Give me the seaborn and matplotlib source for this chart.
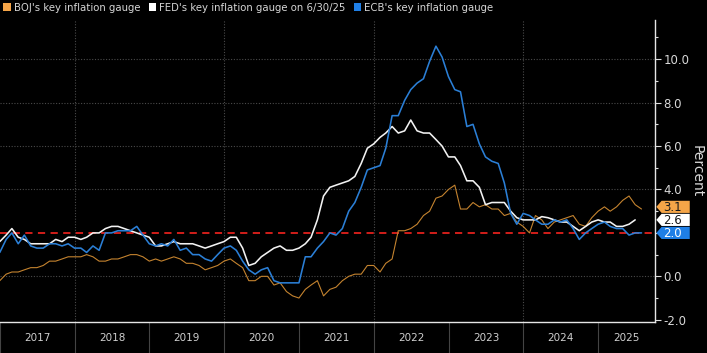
import pandas as pd
import seaborn as sns
import matplotlib.pyplot as plt
import matplotlib.dates as mdates
import matplotlib.transforms as mtransforms
from matplotlib.patches import Patch, Polygon
from matplotlib.ticker import FuncFormatter, NullFormatter, MultipleLocator

# Monthly y/y readings, starting Dec 2016
boj = [-0.2,
       0.1, 0.2, 0.2, 0.3, 0.4, 0.4, 0.5, 0.7, 0.7, 0.8, 0.9, 0.9,
       0.9, 1.0, 0.9, 0.7, 0.7, 0.8, 0.8, 0.9, 1.0, 1.0, 0.9, 0.7,
       0.8, 0.7, 0.8, 0.9, 0.8, 0.6, 0.6, 0.5, 0.3, 0.4, 0.5, 0.7,
       0.8, 0.6, 0.4, -0.2, -0.2, 0.0, 0.0, -0.4, -0.3, -0.7, -0.9, -1.0,
       -0.6, -0.4, -0.2, -0.9, -0.6, -0.5, -0.2, 0.0, 0.1, 0.1, 0.5, 0.5,
       0.2, 0.6, 0.8, 2.1, 2.1, 2.2, 2.4, 2.8, 3.0, 3.6, 3.7, 4.0,
       4.2, 3.1, 3.1, 3.4, 3.2, 3.3, 3.1, 3.1, 2.8, 2.9, 2.5, 2.3,
       2.0, 2.8, 2.6, 2.2, 2.5, 2.6, 2.7, 2.8, 2.4, 2.3, 2.7, 3.0,
       3.2, 3.0, 3.2, 3.5, 3.7, 3.3, 3.1]

fed = [1.6,
       1.9, 2.2, 1.8, 1.7, 1.5, 1.5, 1.5, 1.5, 1.7, 1.6, 1.8, 1.8,
       1.7, 1.8, 2.0, 2.0, 2.2, 2.3, 2.3, 2.2, 2.1, 2.0, 1.9, 1.8,
       1.4, 1.4, 1.5, 1.6, 1.5, 1.5, 1.5, 1.4, 1.3, 1.4, 1.5, 1.6,
       1.8, 1.8, 1.3, 0.5, 0.6, 0.9, 1.1, 1.3, 1.4, 1.2, 1.2, 1.3,
       1.5, 1.8, 2.6, 3.7, 4.1, 4.2, 4.3, 4.4, 4.6, 5.2, 5.9, 6.1,
       6.4, 6.6, 6.9, 6.6, 6.7, 7.2, 6.7, 6.6, 6.6, 6.3, 6.0, 5.5,
       5.5, 5.1, 4.4, 4.4, 4.1, 3.3, 3.4, 3.4, 3.4, 3.0, 2.7, 2.6,
       2.6, 2.6, 2.75, 2.7, 2.6, 2.5, 2.5, 2.3, 2.1, 2.3, 2.5, 2.6,
       2.5, 2.5, 2.3, 2.3, 2.4, 2.6]

ecb = [1.1,
       1.7, 2.0, 1.5, 1.9, 1.4, 1.3, 1.3, 1.5, 1.5, 1.4, 1.5, 1.3,
       1.3, 1.1, 1.4, 1.2, 2.0, 2.0, 2.1, 2.1, 2.1, 2.3, 1.9, 1.5,
       1.4, 1.5, 1.4, 1.7, 1.2, 1.3, 1.0, 1.0, 0.8, 0.7, 1.0, 1.3,
       1.4, 1.2, 0.7, 0.3, 0.1, 0.3, 0.4, -0.2, -0.3, -0.3, -0.3, -0.3,
       0.9, 0.9, 1.3, 1.6, 2.0, 1.9, 2.2, 3.0, 3.4, 4.1, 4.9, 5.0,
       5.1, 5.9, 7.4, 7.4, 8.1, 8.6, 8.9, 9.1, 9.9, 10.6, 10.1, 9.2,
       8.6, 8.5, 6.9, 7.0, 6.1, 5.5, 5.3, 5.2, 4.3, 2.9, 2.4, 2.9,
       2.8, 2.6, 2.4, 2.4, 2.6, 2.5, 2.6, 2.2, 1.7, 2.0, 2.2, 2.4,
       2.5, 2.3, 2.2, 2.2, 1.9, 2.0, 2.0]

labels = ["BOJ's key inflation gauge",
          "FED's key inflation gauge on 6/30/25",
          "ECB's key inflation gauge"]
years = list(range(2017, 2026))
target = 2.0

line_cols = ['#c4832f', '#f2f2f2', '#2b7fd6']
key_cols = ['#f5a548', '#ffffff', '#1f7fe6']
badge_txt = ['#1a1a1a', '#1a1a1a', '#ffffff']

start = pd.Timestamp('2016-12-31')
series = [boj, fed, ecb]
frames = []
for name, vals in zip(labels, series):
    frames.append(pd.DataFrame({'date': pd.date_range(start, periods=len(vals), freq='ME'),
                                'value': vals, 'gauge': name}))
df = pd.concat(frames, ignore_index=True)

sns.set_style('dark')
plt.rcParams['font.family'] = ['DejaVu Sans']

fig = plt.figure(figsize=(7.07, 3.53), dpi=100, facecolor='black')
ax = fig.add_axes([0.0, 0.088, 0.9265, 0.855])
ax.set_facecolor('black')

x0, x1 = pd.Timestamp('2017-01-01'), pd.Timestamp('2025-10-05')
ax.set_xlim(x0, x1)
ax.set_ylim(-2.1, 11.8)

# grid
for v in [0, 4, 6, 8, 10]:
    ax.axhline(v, color='#4a4a4a', lw=0.8, ls=(0, (1, 1.5)), zorder=0)
for y in [2018, 2020, 2022, 2024]:
    ax.axvline(pd.Timestamp(f'{y}-01-01'), color='#4a4a4a', lw=0.8, ls=(0, (1, 1.5)), zorder=0)

ax.axhline(target, color='#e3211c', lw=1.3, ls=(0, (4, 3)), zorder=2)

widths = [0.8, 1.15, 1.15]
for name, c, w in zip(labels, line_cols, widths):
    sub = df[df['gauge'] == name]
    sns.lineplot(data=sub, x='date', y='value', ax=ax, color=c, linewidth=w, zorder=3)

ax.set_xlabel('')
# x axis: year separators + centred year labels
ax.xaxis.set_major_locator(mdates.YearLocator())
ax.xaxis.set_major_formatter(NullFormatter())
centres = []
for y in years:
    a = max(pd.Timestamp(f'{y}-01-01'), x0)
    b = min(pd.Timestamp(f'{y + 1}-01-01'), x1)
    centres.append(mdates.date2num(a + (b - a) / 2))
ax.set_xticks(centres, minor=True)
ax.set_xticklabels([str(y) for y in years], minor=True)
ax.tick_params(axis='x', which='major', bottom=True, direction='out', length=23, width=0.8,
               color='#444444')
ax.tick_params(axis='x', which='minor', bottom=True, length=0, pad=8, labelsize=7.5,
               labelcolor='#cfcfcf')

# y axis on the right
ax.yaxis.tick_right()
ax.yaxis.set_label_position('right')
ax.set_yticks([-2, 0, 2, 4, 6, 8, 10])
ax.yaxis.set_minor_locator(MultipleLocator(1))
ax.yaxis.set_major_formatter(FuncFormatter(lambda v, p: '' if abs(v - 2) < 1e-9 else f'{v:.1f}'))
ax.tick_params(axis='y', which='major', right=True, left=False, direction='out', length=4,
               width=0.8, color='#dddddd', labelsize=8.5, labelcolor='#d9d9d9', pad=2)
ax.tick_params(axis='y', which='minor', right=True, left=False, direction='out', length=2.5,
               width=0.8, color='#dddddd')
ax.set_ylabel('Percent', rotation=270, color='#d9d9d9', fontsize=10, labelpad=10)

for s in ['top', 'left']:
    ax.spines[s].set_visible(False)
ax.spines['right'].set_color('#e6e6e6')
ax.spines['bottom'].set_color('#e6e6e6')
ax.spines['right'].set_linewidth(1.0)
ax.spines['bottom'].set_linewidth(1.0)

# last-value tags (arrow-shaped boxes), nudged apart so they don't collide
trans = mtransforms.blended_transform_factory(ax.transAxes, ax.transData)
half = 0.28
min_gap = 0.6
order = sorted(range(len(series)), key=lambda i: series[i][-1])
tag_y = {}
prev = None
for i in order:
    y = series[i][-1]
    if prev is not None and y - prev < min_gap:
        y = prev + min_gap
    tag_y[i] = y
    prev = y

for i, (vals, fc, tc) in enumerate(zip(series, key_cols, badge_txt)):
    v = tag_y[i]
    tag = Polygon([(1.002, v), (1.010, v + half), (1.053, v + half),
                   (1.053, v - half), (1.010, v - half)], closed=True,
                  transform=trans, fc=fc, ec='none', clip_on=False, zorder=5)
    ax.add_patch(tag)
    ax.text(1.013, v - 0.02, f'{vals[-1]:.1f}', transform=trans, ha='left', va='center',
            fontsize=8.5, color=tc, zorder=6, clip_on=False)

handles = [Patch(facecolor=c, edgecolor='none') for c in key_cols]
fig.legend(handles, labels, loc='upper left', bbox_to_anchor=(-0.004, 1.01), ncol=3, frameon=False,
           fontsize=7.3, labelcolor='#d6d6d6', handlelength=0.75, handleheight=0.75,
           handletextpad=0.3, columnspacing=0.8, borderaxespad=0.2)

fig.savefig('out.png', dpi=100, facecolor='black')
